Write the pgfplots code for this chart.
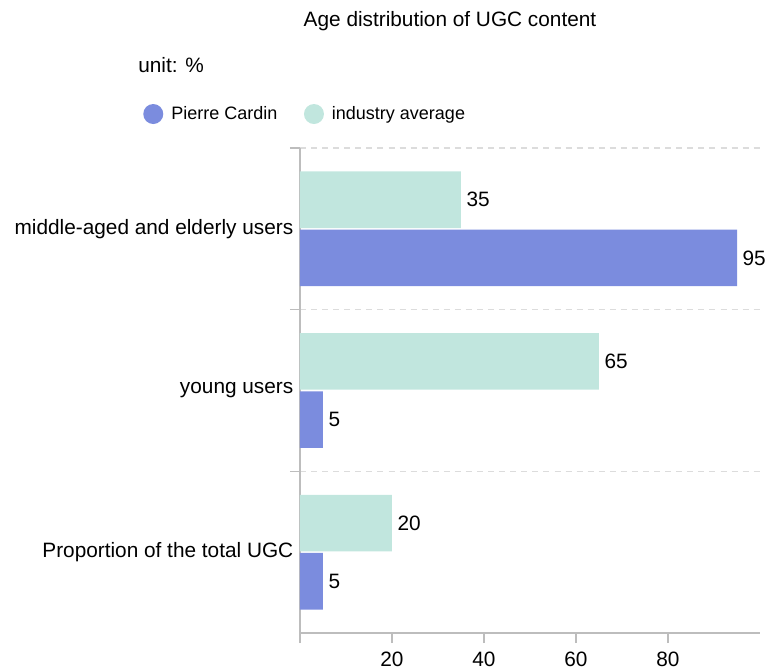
\documentclass[border=0pt]{standalone}
\usepackage{pgfplots}
\pgfplotsset{compat=1.18}
\usepackage{fontspec}
\setmainfont{Liberation Sans}
\definecolor{pcblue}{HTML}{7B8CDE}
\definecolor{indgreen}{HTML}{C1E6DE}
\definecolor{axgray}{HTML}{BDBDBD}
\definecolor{gridgray}{HTML}{DCDCDC}
\newcommand{\chartfont}{\fontsize{15.6}{18}\selectfont}
\newcommand{\legfont}{\fontsize{13.5}{16}\selectfont}
\begin{document}
\begin{tikzpicture}
\begin{axis}[
  at={(225pt,-474.75pt)}, anchor=south west,
  scale only axis, width=345pt, height=363.75pt,
  xbar, xmin=0, xmax=100, ymin=-0.5, ymax=2.5,
  bar width=0.35,
  axis x line*=bottom, axis y line*=left,
  axis line style={axgray, line width=0.8pt, -},
  xtick={0,20,40,60,80}, xticklabels={,20,40,60,80},
  xticklabel style={yshift=-3.5pt},
  ytick={0.5,1.5,2.5}, yticklabels={},
  ymajorgrids,
  major grid style={gridgray, dash pattern=on 4.5pt off 3.8pt, line width=0.8pt},
  y tick style={axgray, line width=0.8pt},
  extra y ticks={0,1,2},
  extra y tick labels={Proportion of the total UGC, young users, middle-aged and elderly users},
  extra y tick style={grid=none, major tick length=0pt, tick style={draw=none}, yticklabel style={xshift=-1.5pt}},
  x tick style={axgray, line width=0.8pt},
  tick align=outside, major tick length=7.5pt,
  tick label style={font=\chartfont, text=black},
  /pgf/number format/assume math mode=true,
  nodes near coords,
  nodes near coords style={anchor=west, font=\chartfont, text=black, inner sep=4pt},
  legend style={at={(-0.3413,1.0701)}, anchor=west, draw=none, fill=none, inner sep=0pt,
    font=\legfont, legend columns=2,
    nodes={inner xsep=6pt},
    /tikz/every even column/.append style={column sep=14pt}},
  legend image code/.code={\fill[#1] (0pt,0pt) circle (7.5pt);},
  legend cell align=left,
]
\addplot[fill=pcblue, draw=none, bar shift=-0.18] coordinates {(5,0) (5,1) (95,2)};
\addlegendentry{Pierre Cardin}
\addplot[fill=indgreen, draw=none, bar shift=0.18] coordinates {(20,0) (65,1) (35,2)};
\addlegendentry{industry average}
\end{axis}
\node[font=\chartfont] at (337.5pt,-15.5pt) {Age distribution of UGC content};
\node[font=\chartfont, anchor=west, inner sep=0pt] at (103.5pt,-48.75pt) {unit: \%};
\pgfresetboundingbox
\path[use as bounding box] (0pt,0pt) rectangle (573.75pt,-504pt);
\end{tikzpicture}
\end{document}
